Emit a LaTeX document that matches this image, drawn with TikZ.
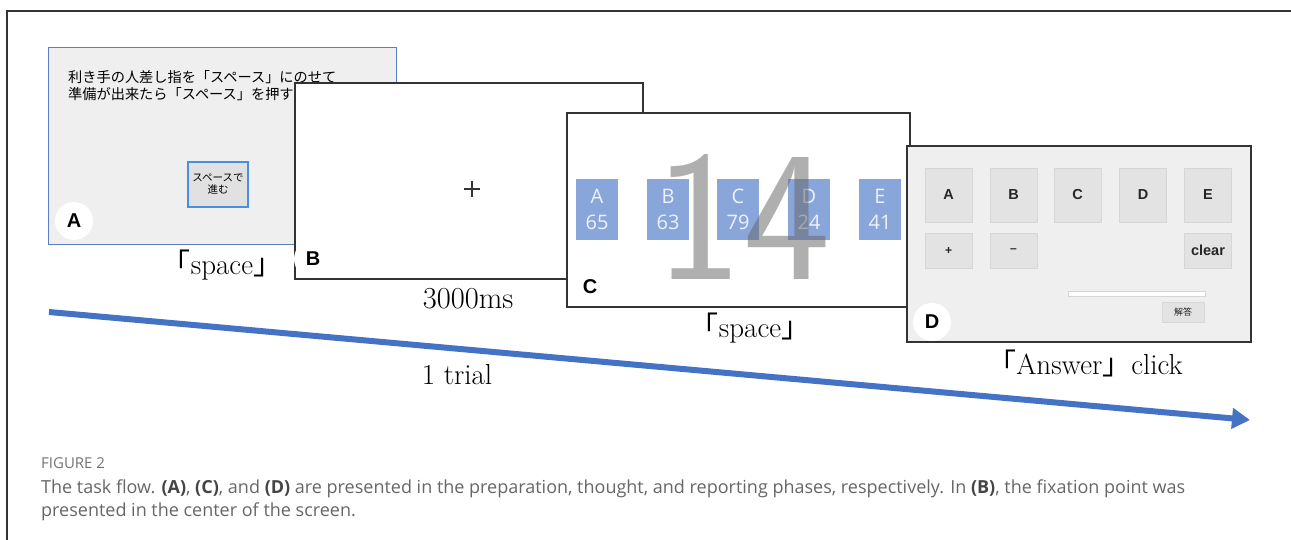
\documentclass[tikz,border=0pt]{standalone}
\usepackage{fontspec}
\newfontfamily\cjk{Noto Sans CJK JP}
\newfontfamily\arial{Liberation Sans}
\newfontfamily\capfont{Open Sans}
\usetikzlibrary{arrows.meta}
\definecolor{frame}{HTML}{333333}
\definecolor{panelgray}{HTML}{EFEFEF}
\definecolor{panelblue}{HTML}{5B7FC4}
\definecolor{btnblue}{HTML}{4A90E2}
\definecolor{btngray}{HTML}{E1E1E1}
\definecolor{boxblue}{HTML}{89A6DA}
\definecolor{boxtext}{HTML}{EEF2FA}
\definecolor{keygray}{HTML}{E3E3E3}
\definecolor{keyedge}{HTML}{D6D6D6}
\definecolor{arrowblue}{HTML}{4472C4}
\definecolor{captext}{HTML}{666666}
\definecolor{capbold}{HTML}{444444}
\newcommand{\fsz}[2]{\fontsize{#1}{#2}\selectfont}
\newcommand{\capb}[1]{\textcolor{capbold}{\textbf{#1}}}
\begin{document}
\begin{tikzpicture}[x=1pt,y=-1pt,
  screen/.style={draw=frame, line width=1.3pt, fill=white, anchor=north west, inner sep=0pt, outer sep=0pt},
  lab/.style={circle, fill=white, minimum size=38pt, inner sep=0pt, font=\arial\bfseries\fsz{20}{20}},
  serif/.style={font=\fsz{29}{32}, inner sep=0pt},
  bluebox/.style={fill=boxblue, minimum width=42pt, minimum height=61pt, inner sep=0pt, align=center, text=boxtext, font=\capfont\fsz{20}{26}},
  key/.style={fill=keygray, draw=keyedge, line width=0.6pt, inner sep=0pt, font=\arial\bfseries\fsz{14.5}{14.5}, text=black!85},
  captiontext/.style={anchor=base west, inner sep=0pt, text=captext}
]
\useasboundingbox (0,0) rectangle (1291,540);
% outer frame
\coordinate (fb) at (7,540);
\coordinate (fc) at (7,11);
\coordinate (fr) at (1291,11);
\draw[frame, line width=1.2pt] (fb) -- (fc) -- (fr);

% Panel A
\node[screen, draw=panelblue, line width=1pt, fill=panelgray, minimum width=348pt, minimum height=197pt] (pa) at (48,48) {};
\node[anchor=base west, inner sep=0pt, font=\cjk\fsz{14.2}{17}] (ja1) at (68,82.5) {利き手の人差し指を「スペース」にのせて};
\node[anchor=base west, inner sep=0pt, font=\cjk\fsz{14.2}{17}] (ja2) at (68,99.5) {準備が出来たら「スペース」を押すと進みます};
\node[fill=btngray, draw=btnblue, line width=1.3pt, minimum width=60pt, minimum height=45pt, inner sep=0pt, align=center, font=\cjk\fsz{10.5}{12}] (abtn) at (218,184.5) {スペースで\\進む};
\node[lab] (la) at (74,221) {A};
\node[serif] (t1) at (222,265) {{\cjk 「}space{\cjk 」}};

% Panel B
\node[screen, minimum width=348pt, minimum height=196pt] (pb) at (295,83) {};
\coordinate (plus) at (472,189);
\draw[frame, line width=1.1pt] ([xshift=-8pt]plus) -- ([xshift=8pt]plus);
\draw[frame, line width=1.1pt] ([yshift=-8pt]plus) -- ([yshift=8pt]plus);
\node[lab] (lb) at (313,259) {B};
\node[serif, font=\fsz{30.5}{32}] (t2) at (468,299) {3000ms};

% Panel C
\node[screen, minimum width=343pt, minimum height=194pt] (pc) at (567,113) {};
\node[bluebox] (ba) at (597,209.5) {A\\65};
\node[bluebox] (bb) at (668,209.5) {B\\63};
\node[bluebox] (bc) at (738,209.5) {C\\79};
\node[bluebox] (bd) at (809,209.5) {D\\24};
\node[bluebox] (be) at (880,209.5) {E\\41};
\node[inner sep=0pt, text=black!60, text opacity=0.52, font=\sffamily\fsz{186}{186}] (big) at (743,217.5) {14};
\node[lab] (lc) at (590,287) {C};
\node[serif] (t3) at (750,328) {{\cjk 「}space{\cjk 」}};

% Panel D
\node[screen, fill=panelgray, minimum width=344pt, minimum height=196pt] (pd) at (907,146) {};
\node[key, minimum width=47pt, minimum height=54pt] (ka) at (948.5,195) {A};
\node[key, minimum width=47pt, minimum height=54pt] (kb) at (1013.5,195) {B};
\node[key, minimum width=47pt, minimum height=54pt] (kc) at (1077.5,195) {C};
\node[key, minimum width=47pt, minimum height=54pt] (kd) at (1143,195) {D};
\node[key, minimum width=47pt, minimum height=54pt] (ke) at (1208,195) {E};
\node[key, minimum width=47pt, minimum height=35pt, font=\arial\bfseries\fsz{12}{12}] (kp) at (948.5,250.5) {+};
\node[key, minimum width=47pt, minimum height=35pt, font=\arial\bfseries\fsz{12}{12}] (km) at (1013.5,250.5) {\textendash};
\node[key, minimum width=47pt, minimum height=35pt] (kcl) at (1208,250.5) {clear};
\node[fill=white, draw=keyedge, line width=0.8pt, minimum width=137pt, minimum height=5pt, inner sep=0pt] (bar) at (1136.5,293.5) {};
\node[key, minimum width=42pt, minimum height=20pt, font=\cjk\fsz{9}{9}] (ans) at (1183,312) {解答};
\node[lab] (ld) at (932,322) {D};
\node[serif] (t4) at (1085,363) {{\cjk 「}Answer{\cjk 」}click};

% arrow
\coordinate (as) at (49,312);
\coordinate (ae) at (1250,420);
\draw[arrowblue, line width=6pt, -{Triangle[length=18pt,width=20pt]}] (as) -- (ae);
\node[serif] (t5) at (457,375) {1 trial};

% caption
\node[captiontext, font=\capfont\fsz{15}{17}, text=black!55] (fig) at (41,468) {FIGURE 2};
\node[captiontext, font=\capfont\fsz{18}{23}] (c1) at (41,493) {The task flow. \capb{(A)}, \capb{(C)}, and \capb{(D)} are presented in the preparation, thought, and reporting phases, respectively. In \capb{(B)}, the fixation point was};
\node[captiontext, font=\capfont\fsz{18}{23}] (c2) at (41,516) {presented in the center of the screen.};
\end{tikzpicture}
\end{document}
